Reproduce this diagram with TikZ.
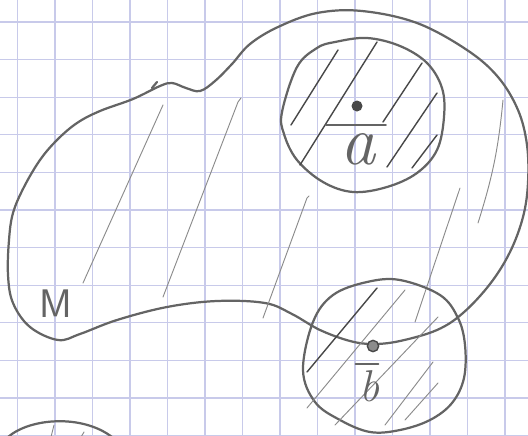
\documentclass[tikz,border=0pt]{standalone}

\definecolor{pencil}{RGB}{100,100,100}
\definecolor{pencillight}{RGB}{140,140,140}
\definecolor{pencildark}{RGB}{72,72,72}
\definecolor{gridblue}{RGB}{200,202,234}

\begin{document}
\begin{tikzpicture}[
    x=0.03cm, y=-0.03cm,
    line cap=round, line join=round,
    outline/.style={draw=pencil, line width=1.9pt},
    hatch/.style={draw=pencillight, line width=0.8pt},
    hatchdark/.style={draw=pencildark, line width=1.2pt},
    gridline/.style={draw=gridblue, line width=0.9pt},
    pointdot/.style={circle, fill=pencildark, inner sep=0pt, minimum size=0.33cm},
    letter/.style={inner sep=0pt, text=pencil},
]

% ---- paper ----
\clip (0,0) rectangle (528,435);
\fill[white] (0,0) rectangle (528,435);
\foreach \k in {0,...,13} {
  \draw[gridline] ({17.5+37.5*\k}, 0) -- ++(0, 435);
}
\foreach \k in {0,...,11} {
  \draw[gridline] (0, {22+37.6*\k}) -- ++(528, 0);
}

% ---- the set M ----
\draw[outline] plot[smooth cycle, tension=0.6] coordinates {
  (373,344) (400,341) (437,330) (463,313) (490,284) (510,252)
  (523,217) (528,183) (527,145) (518,110) (498,77) (467,50)
  (417,23) (362,11) (317,13) (278,27) (250,44) (232,64)
  (215,81) (200,91) (186,88) (172,83) (160,86) (133,99)
  (100,111) (77,123) (57,140) (40,160) (24,187) (13,213)
  (9,240) (8,275) (13,303) (30,327) (58,340) (80,334)
  (117,320) (167,307) (217,301) (265,303) (292,314) (320,330)
  (350,341)};
\draw[outline] (152,88) -- (157,82);

% light hatching of M
\draw[hatch] (163,105) -- (83,283);
\draw[hatch] (241,98) -- (238,102) -- (163,297);
\draw[hatch] (309,196) -- (307,198) -- (263,318);
\draw[hatch] (460,188) -- (415,322);
\draw[hatch] (503,100) to[bend left=6] (478,223);

% ---- neighbourhood of a ----
\draw[outline] plot[smooth cycle, tension=0.6] coordinates {
  (282,112) (297,67) (317,48) (335,42) (367,38) (400,46)
  (427,63) (442,88) (444,117) (437,150) (417,173) (387,187)
  (353,192) (323,182) (297,160) (284,134)};

\draw[hatchdark] (338,50) -- (291,125);
\draw[hatchdark] (377,42) -- (300,165);
\draw[hatchdark] (422,63) -- (383,122);
\draw[hatchdark] (437,93) -- (387,167);
\draw[hatchdark] (437,135) -- (412,168);

% ---- neighbourhood of b ----
\draw[outline] plot[smooth cycle, tension=0.6] coordinates {
  (303,370) (313,322) (333,295) (367,282) (400,280) (440,295)
  (458,318) (465,345) (464,378) (452,403) (430,420) (400,430)
  (370,432) (340,420) (315,402)};

\draw[hatchdark] (377,288) -- (307,372);
\draw[hatch] (405,290) -- (307,408);
\draw[hatch] (438,317) -- (335,425);
\draw[hatch] (433,362) -- (385,425);
\draw[hatch] (438,383) -- (405,420);

% ---- third neighbourhood (cut off) ----
\draw[outline] (8,437) .. controls (30,418) and (82,414) .. (112,437);
\draw[hatch] (54,425) -- (51,437);
\draw[hatch] (84,432) -- (81,437);

% ---- points and labels ----
\node[pointdot] (pa) at (357,106) {};
\node[pointdot, fill=pencillight, draw=pencildark, line width=1.2pt,
      minimum size=0.34cm] (pb) at (373,346) {};

\node[letter, font=\fontsize{60}{60}\selectfont\itshape] (la) at (358,149) {a};
\draw[outline] ([shift={(-14,-8)}]la.north west) -- ([shift={(10,-8)}]la.north east);

\node[letter, font=\fontsize{38}{38}\selectfont\itshape] (lb) at (370,386) {b};
\draw[outline] ([shift={(-4,-6)}]lb.north west) -- ([shift={(-2,-6)}]lb.north east);

\node[letter, font=\fontsize{34}{34}\selectfont\sffamily] (m) at (56,304) {M};

\end{tikzpicture}
\end{document}
